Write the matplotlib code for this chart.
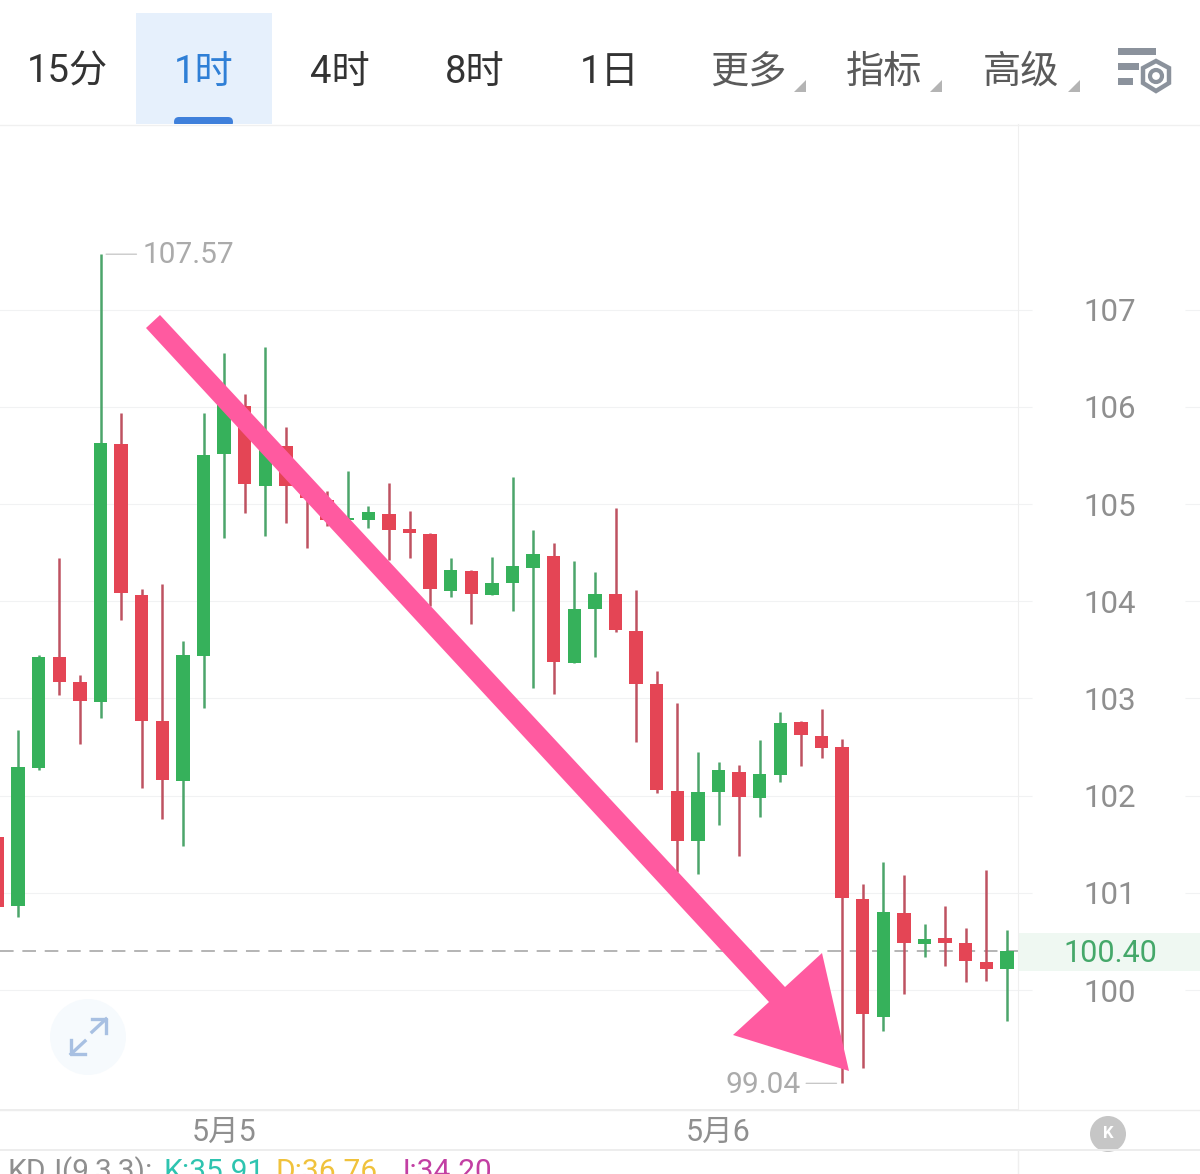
import numpy as np
import matplotlib
matplotlib.use('Agg')
import matplotlib.pyplot as plt
from matplotlib.patches import Rectangle, Polygon, Circle, FancyBboxPatch

plt.rcParams['font.family'] = ['Roboto', 'Noto Sans CJK SC', 'DejaVu Sans']

# 1 hour candles
opens = [101.57, 100.86, 102.28, 103.43, 103.17, 102.96, 105.62, 104.06, 102.77, 102.15,
         103.44, 105.51, 106.01, 105.19, 105.60, 105.13, 105.04, 104.84, 104.84, 104.90,
         104.74, 104.69, 104.10, 104.31, 104.06, 104.19, 104.34, 104.46, 103.36, 103.92,
         104.07, 103.69, 103.15, 102.05, 101.53, 102.04, 102.24, 101.98, 102.21, 102.76,
         102.61, 102.50, 100.94, 99.72, 100.79, 100.47, 100.53, 100.48, 100.29, 100.22]
closes = [100.85, 102.29, 103.43, 103.17, 102.97, 105.63, 104.08, 102.77, 102.16, 103.45,
          105.50, 106.04, 105.21, 105.59, 105.19, 105.06, 104.84, 104.86, 104.92, 104.73,
          104.70, 104.13, 104.32, 104.07, 104.19, 104.36, 104.49, 103.37, 103.92, 104.07,
          103.70, 103.15, 102.06, 101.53, 102.04, 102.26, 101.99, 102.22, 102.75, 102.62,
          102.49, 100.95, 99.75, 100.80, 100.48, 100.52, 100.48, 100.30, 100.22, 100.40]
highs = [101.57, 102.67, 103.45, 104.44, 103.24, 107.57, 105.94, 104.13, 104.18, 103.59,
         105.94, 106.55, 106.13, 106.62, 105.79, 105.30, 105.13, 105.34, 104.98, 105.22,
         104.93, 104.70, 104.44, 104.32, 104.45, 105.28, 104.73, 104.60, 104.41, 104.30,
         104.96, 104.12, 103.28, 102.95, 102.45, 102.35, 102.31, 102.57, 102.86, 102.77,
         102.89, 102.58, 101.09, 101.32, 101.18, 100.68, 100.86, 100.64, 101.23, 100.62]
lows = [100.85, 100.75, 102.26, 103.03, 102.53, 102.80, 103.81, 102.08, 101.76, 101.48,
        102.90, 104.65, 104.91, 104.67, 104.80, 104.55, 104.77, 104.73, 104.75, 104.42,
        104.44, 103.95, 104.04, 103.77, 104.06, 103.90, 103.11, 103.05, 103.36, 103.43,
        103.68, 102.55, 102.03, 101.21, 101.19, 101.70, 101.38, 101.78, 102.14, 102.30,
        102.39, 99.04, 99.20, 99.58, 99.96, 100.34, 100.25, 100.08, 100.09, 99.68]

price_ticks = [100, 101, 102, 103, 104, 105, 106, 107]
date_labels = ['5月5', '5月6']
date_index = [11, 35]
last_price = 100.40
max_index, min_index = 5, 41
tabs = ['15分', '1时', '4时', '8时', '1日', '更多', '指标', '高级']
kdj_labels = ['KDJ(9,3,3):', 'K:35.91', 'D:36.76', 'J:34.20']

GREEN = '#36B15B'
RED = '#E44555'
GREEN_WICK = '#4CA56B'
RED_WICK = '#BE5261'
GRID = '#F1F2F3'
W, H = 1200, 1174

fig = plt.figure(figsize=(12, 11.74), dpi=100, facecolor='white')

# chart area: 0..1018 px wide, 124..1110 px high
ax = fig.add_axes([0, 1 - 1110 / H, 1018 / W, (1110 - 124) / H])
x_step = 20.6
ax.set_xlim(2.5 / x_step, (1018 + 2.5) / x_step)
y_unit = 97.2
ax.set_ylim(100 - (1110 - 990) / y_unit, 100 + (990 - 124) / y_unit)

x = np.arange(len(opens))
colors = [GREEN if c >= o else RED for o, c in zip(opens, closes)]
wicks = [GREEN_WICK if c >= o else RED_WICK for o, c in zip(opens, closes)]
ax.vlines(x, lows, highs, colors=wicks, lw=1.8, zorder=3)
ax.bar(x, np.abs(np.array(closes) - np.array(opens)), bottom=np.minimum(opens, closes),
       width=0.66, color=colors, zorder=4)

ax.set_yticks(price_ticks)
ax.yaxis.tick_right()
ax.tick_params(axis='y', length=10, width=0.8, color=GRID, pad=37, labelsize=22.5, labelcolor='#8F8F8F')
ax.set_xticks(date_index)
ax.set_xticklabels(date_labels)
ax.tick_params(axis='x', length=0, pad=6, labelsize=22, labelcolor='#8F8F8F')
ax.grid(axis='y', color=GRID, lw=0.8, zorder=0)
for side in ['top', 'left']:
    ax.spines[side].set_visible(False)
ax.spines['right'].set_color('#EFEFEF')
ax.spines['bottom'].set_color('#EDEDED')
ax.spines['bottom'].set_linewidth(1.4)

# short grid stubs right of the labels
ytrans = ax.get_yaxis_transform()
ax.hlines(price_ticks, 1185 / 1018, W / 1018, colors=GRID, lw=0.8, transform=ytrans, clip_on=False)

# last price line and label
ax.axhline(last_price, color='#B4B4B4', lw=1.4, dashes=(7, 4.5), zorder=2)
ax.add_patch(Rectangle((1, last_price - 0.2), (W - 1018) / 1018, 0.39, transform=ytrans,
                       facecolor='#EFF8F2', edgecolor='none', clip_on=False, zorder=1))
ax.text(1110 / 1018, last_price - 0.02, '100.40', transform=ytrans, ha='center', va='center',
        fontsize=22, color='#45A86A', clip_on=False, zorder=5)

# high and low markers
gray = '#ABABAB'
ax.annotate('', xy=(max_index, highs[max_index]), xytext=(36, 0), textcoords='offset pixels',
            arrowprops=dict(arrowstyle='-', color='#C4C4C4', lw=0.9, shrinkA=0, shrinkB=4))
ax.annotate('107.57', xy=(max_index, highs[max_index]), xytext=(42, -1), textcoords='offset pixels',
            ha='left', va='center', fontsize=21.5, color=gray)
ax.annotate('', xy=(min_index, lows[min_index]), xytext=(-36, 0), textcoords='offset pixels',
            arrowprops=dict(arrowstyle='-', color='#C4C4C4', lw=0.9, shrinkA=0, shrinkB=4))
ax.annotate('99.04', xy=(min_index, lows[min_index]), xytext=(-41, -2), textcoords='offset pixels',
            ha='right', va='center', fontsize=21.5, color=gray)

# overlay in pixel coords for the app chrome and the hand drawn arrow
ov = fig.add_axes([0, 0, 1, 1], zorder=5)
ov.set_xlim(0, W)
ov.set_ylim(H, 0)
ov.axis('off')
ov.patch.set_alpha(0)

ov.add_patch(Rectangle((136, 13), 136, 111, facecolor='#E6F0FC', edgecolor='none'))
ov.add_patch(FancyBboxPatch((177, 120), 53, 4, boxstyle='round,pad=3,rounding_size=5',
                            facecolor='#3F80DB', edgecolor='none'))
ov.add_patch(Rectangle((170, 124), 70, 6, facecolor='white', edgecolor='none'))
ov.axhline(124.5, color='#F0F0F0', lw=1)
ov.axhline(1110, color='#EDEDED', lw=1)
ov.axhline(1150, color='#EDEDED', lw=1.4)
ov.vlines(1018, 1150, H, color='#EFEFEF', lw=1)

tab_x = [67, 204, 340, 475, 610, 748, 884, 1021]
tab_colors = ['#333333', '#2F7FD6', '#333333', '#333333', '#333333', '#5A5A5A', '#5A5A5A', '#5A5A5A']
for label, tx, tc in zip(tabs, tab_x, tab_colors):
    ov.text(tx, 72, label, ha='center', va='center', fontsize=27.5, color=tc)
for rx in [806, 942, 1080]:
    ov.add_patch(Polygon([(rx, 80), (rx, 92), (rx - 12, 92)], facecolor='#B4B4B4', edgecolor='none'))

# settings icon
icon = '#8B929C'
ov.add_patch(Rectangle((1118, 48), 38, 7, facecolor=icon, edgecolor='none'))
ov.add_patch(Rectangle((1118, 63), 21, 7, facecolor=icon, edgecolor='none'))
ov.add_patch(Rectangle((1118, 78), 15, 7, facecolor=icon, edgecolor='none'))
ov.add_patch(Polygon([(1156, 61), (1169, 68), (1169, 83), (1156, 91), (1143, 83), (1143, 68)],
                     facecolor='white', edgecolor=icon, lw=3.2))
ov.add_patch(Circle((1156, 76), 6, facecolor='white', edgecolor=icon, lw=3))

# expand button
ov.add_patch(Circle((88, 1037), 38, facecolor='#F6FAFD', edgecolor='none'))
btn = '#A8C0E2'
ov.plot([92, 106], [1032, 1019], color=btn, lw=2.4)
ov.plot([92, 106, 106], [1019, 1019, 1033], color=btn, lw=2.4)
ov.plot([71, 85], [1054, 1041], color=btn, lw=2.4)
ov.plot([71, 71, 85], [1040, 1054, 1054], color=btn, lw=2.4)

# collapse button
ov.add_patch(Circle((1108, 1134), 18, facecolor='#C6C6C6', edgecolor='none'))
ov.text(1108, 1134, 'K', ha='center', va='center', fontsize=12, color='white', fontweight='bold')

# indicator line, cut by the bottom edge of the picture like the reference
kdj_x = [8, 163, 275, 393]
kdj_colors = ['#8F8F8F', '#2EC4B0', '#F0C23C', '#C23FA3']
for label, kx, kc in zip(kdj_labels, kdj_x, kdj_colors):
    ov.text(kx, 1180, label, ha='left', va='baseline', fontsize=21.5, color=kc)

# pink arrow
ov.add_patch(Polygon([(160, 315), (785, 987), (822, 953), (849, 1071), (733, 1035), (769, 1002), (146, 328)],
                     facecolor='#FF5AA0', edgecolor='none'))

fig.savefig('out.png', dpi=100, facecolor='white')
